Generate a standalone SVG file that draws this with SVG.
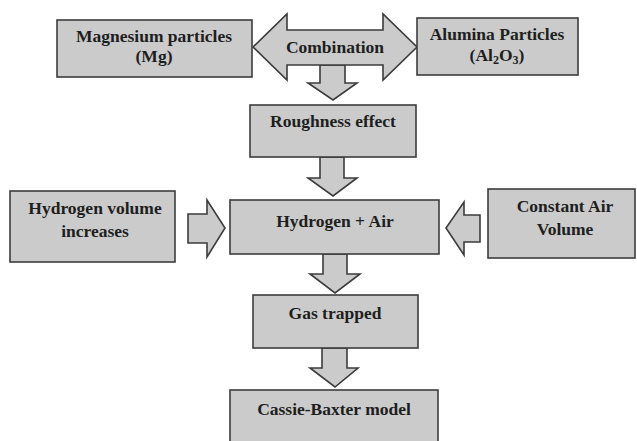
<svg xmlns="http://www.w3.org/2000/svg" width="637" height="441" viewBox="0 0 637 441">
<style>
.box{fill:#cbcbcb;stroke:#3c3c3c;stroke-width:1.6}
.arr{fill:#cbcbcb;stroke:#3c3c3c;stroke-width:1.6;stroke-linejoin:miter}
.t{font-family:"Liberation Serif","Times New Roman",serif;font-weight:bold;font-size:17.5px;fill:#1e1e1e;text-anchor:middle}
</style>
<rect width="637" height="441" fill="#ffffff"/>
<g id="connectors">
<polygon class="arr" points="320,65 345,65 345,83 357,83 333,100 308,83 320,83"/>
<polygon class="arr" points="320,157 344,157 344,178 357,178 333,196 308,178 320,178"/>
<polygon class="arr" points="323,254 347,254 347,274 360,274 335,293 310,274 323,274"/>
<polygon class="arr" points="322,348 347,348 347,368 358,368 335,387 310,368 322,368"/>
<polygon class="arr" points="188,214 207,214 207,200 225,228 207,257 207,243 188,243"/>
<polygon class="arr" points="480,215 464,215 464,202 446,228 464,255 464,242 480,242"/>
</g>
<g id="combination">
<polygon class="arr" points="253,47 287,14 287,30 383,30 383,14 417,47 383,80 383,65 287,65 287,80"/>
<text class="t" x="335" y="53">Combination</text>
</g>
<g id="magnesium">
<rect class="box" x="57" y="20" width="195" height="57"/>
<text class="t" x="154" y="42">Magnesium particles</text>
<text class="t" x="154" y="62">(Mg)</text>
</g>
<g id="alumina">
<rect class="box" x="417" y="18" width="161" height="57"/>
<text class="t" x="497" y="40">Alumina Particles</text>
<text class="t" x="497" y="61">(Al<tspan font-size="12" dy="3">2</tspan><tspan dy="-3">O</tspan><tspan font-size="12" dy="3">3</tspan><tspan dy="-3">)</tspan></text>
</g>
<g id="roughness">
<rect class="box" x="250" y="105" width="166" height="52"/>
<text class="t" x="333" y="127">Roughness effect</text>
</g>
<g id="hydrogen-volume">
<rect class="box" x="10" y="191" width="165" height="71"/>
<text class="t" x="95" y="214">Hydrogen volume</text>
<text class="t" x="95" y="237">increases</text>
</g>
<g id="hydrogen-air">
<rect class="box" x="230" y="200" width="209" height="54"/>
<text class="t" x="335" y="227">Hydrogen + Air</text>
</g>
<g id="constant-air">
<rect class="box" x="488" y="189" width="147" height="69"/>
<text class="t" x="565" y="212">Constant Air</text>
<text class="t" x="565" y="235">Volume</text>
</g>
<g id="gas-trapped">
<rect class="box" x="253" y="295" width="165" height="53"/>
<text class="t" x="335" y="319">Gas trapped</text>
</g>
<g id="cassie-baxter">
<rect class="box" x="230" y="390" width="208" height="56"/>
<text class="t" x="334" y="415">Cassie-Baxter model</text>
</g>
</svg>
